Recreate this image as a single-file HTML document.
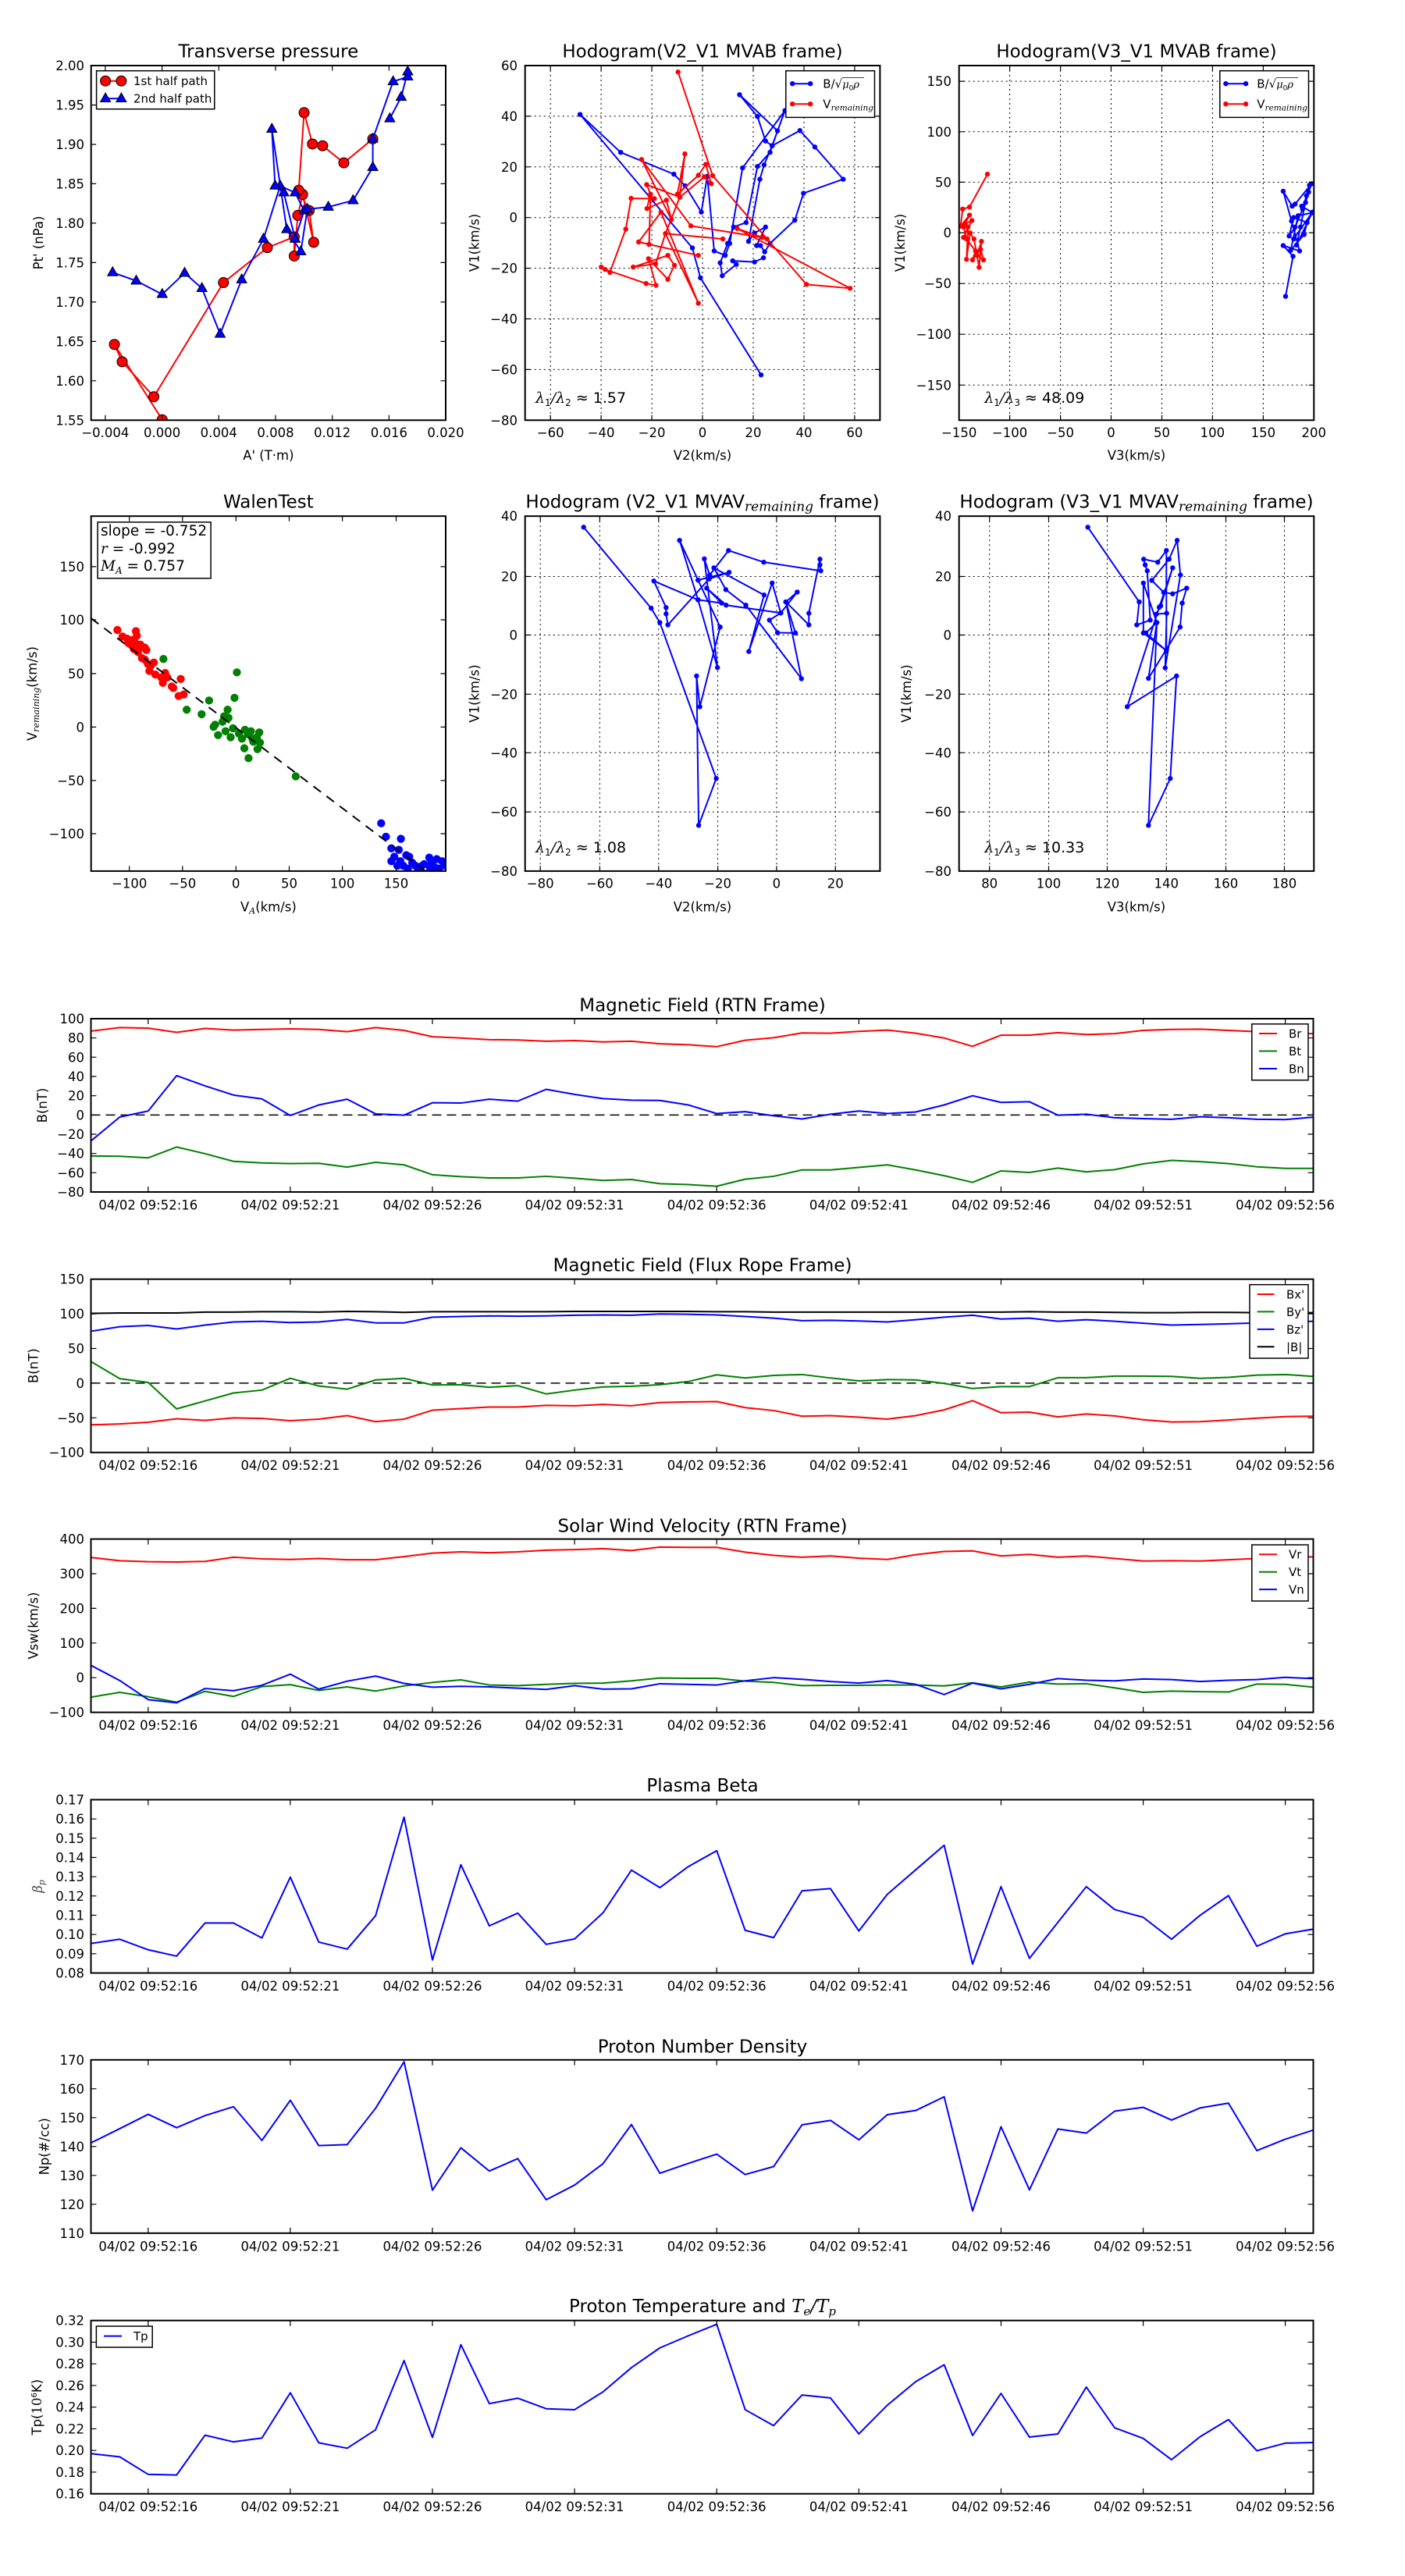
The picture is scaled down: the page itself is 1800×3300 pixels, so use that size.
<!DOCTYPE html>
<html><head><meta charset="utf-8"><style>
html,body{margin:0;padding:0;background:#fff}
svg{display:block}
text{font-family:"DejaVu Sans","Liberation Sans",sans-serif;fill:#000}
.t{font-size:23px;text-anchor:middle}
.kx{font-size:16.5px;text-anchor:middle}
.ky{font-size:16.5px;text-anchor:end}
.lg{font-size:15px}
.m{font-family:"DejaVu Serif","Liberation Serif",serif;font-style:italic}
.fr{fill:none;stroke:#000;stroke-width:2}
.tk{fill:none;stroke:#000;stroke-width:1.2}
.gd{fill:none;stroke:#000;stroke-width:1;stroke-dasharray:2,4}
.ts{fill:none;stroke-width:2;vector-effect:non-scaling-stroke;stroke-linejoin:round}
</style></head><body>
<svg width="1800" height="3300" xmlns="http://www.w3.org/2000/svg" xmlns:xlink="http://www.w3.org/1999/xlink">
<defs>
<clipPath id="c1"><rect x="116.7" y="84" width="454.3" height="454.3"/></clipPath>
<clipPath id="c2"><rect x="672.7" y="84" width="454.7" height="454.3"/></clipPath>
<clipPath id="c3"><rect x="1228.7" y="84" width="454.6" height="454.3"/></clipPath>
<clipPath id="c4"><rect x="116.7" y="661.2" width="454.3" height="454.7"/></clipPath>
<clipPath id="c5"><rect x="672.7" y="661.2" width="454.7" height="454.7"/></clipPath>
<clipPath id="c6"><rect x="1228.7" y="661.2" width="454.6" height="454.7"/></clipPath>
<clipPath id="t1"><rect x="116.5" y="1305" width="1566" height="222"/></clipPath>
<clipPath id="t2"><rect x="116.5" y="1638.7" width="1566" height="222"/></clipPath>
<clipPath id="t3"><rect x="116.5" y="1971.6" width="1566" height="222"/></clipPath>
<clipPath id="t4"><rect x="116.5" y="2305.5" width="1566" height="222"/></clipPath>
<clipPath id="t5"><rect x="116.5" y="2638.8" width="1566" height="222"/></clipPath>
<clipPath id="t6"><rect x="116.5" y="2972.7" width="1566" height="222"/></clipPath>
<marker id="mB" viewBox="-10 -10 20 20" markerWidth="20" markerHeight="20" markerUnits="userSpaceOnUse" overflow="visible"><circle r="8.4" fill="#0000ff"/></marker>
<marker id="mR" viewBox="-10 -10 20 20" markerWidth="20" markerHeight="20" markerUnits="userSpaceOnUse" overflow="visible"><circle r="8.4" fill="#ff0000"/></marker>
<marker id="wR" viewBox="-15 -15 30 30" markerWidth="30" markerHeight="30" markerUnits="userSpaceOnUse" overflow="visible"><circle r="13.5" fill="#ff0000"/></marker>
<marker id="wG" viewBox="-15 -15 30 30" markerWidth="30" markerHeight="30" markerUnits="userSpaceOnUse" overflow="visible"><circle r="13.5" fill="#008000"/></marker>
<marker id="wB" viewBox="-15 -15 30 30" markerWidth="30" markerHeight="30" markerUnits="userSpaceOnUse" overflow="visible"><circle r="13.5" fill="#0000ff"/></marker>
<marker id="pC" viewBox="-20 -20 40 40" markerWidth="40" markerHeight="40" markerUnits="userSpaceOnUse" overflow="visible"><circle r="17" fill="#ff0000" stroke="#000" stroke-width="2.6"/></marker>
<marker id="pT" viewBox="-20 -20 40 40" markerWidth="40" markerHeight="40" markerUnits="userSpaceOnUse" overflow="visible"><path d="M0,-19L-17,11L17,11Z" fill="#0000ff" stroke="#000" stroke-width="2.6"/></marker>
<path id="xtb" d="M189.8,0v-7M371.9,0v-7M554,0v-7M736.1,0v-7M918.2,0v-7M1100.3,0v-7M1282.5,0v-7M1464.6,0v-7M1646.6,0v-7"/>
<path id="xtt" d="M189.8,0v7M371.9,0v7M554,0v7M736.1,0v7M918.2,0v7M1100.3,0v7M1282.5,0v7M1464.6,0v7M1646.6,0v7"/>
</defs>
<rect x="0" y="0" width="1800" height="3300" fill="#fff"/>

<!-- ================= PLOT 1: Transverse pressure ================= -->
<g clip-path="url(#c1)"><g transform="scale(0.3827)">
<polyline fill="none" stroke="#ff0000" stroke-width="5.2" stroke-linejoin="round" marker-start="url(#pC)" marker-mid="url(#pC)" marker-end="url(#pC)" points="543,1405 383,1153 409,1211 515,1328 748,946 895,829 985,793 985,857 997,721 1013,651 1050,811 1035,705 1000,637 1018,377 1046,482 1080,488 1151,545 1248,465"/>
<polyline fill="none" stroke="#0000ff" stroke-width="5.2" stroke-linejoin="round" marker-start="url(#pT)" marker-mid="url(#pT)" marker-end="url(#pT)" points="377,912 456,940 543,985 618,914 676,965 737,1118 809,936 882,800 938,622 988,645 1018,705 988,800 950,645 921,622 910,432 960,768 1007,842 1029,700 1099,693 1182,671 1248,560 1248,465 1316,273 1365,257 1365,240 1343,325 1305,397"/>
</g></g>
<path class="tk" d="M134.9,538.3v-6.5M207.6,538.3v-6.5M280.3,538.3v-6.5M353,538.3v-6.5M425.7,538.3v-6.5M498.4,538.3v-6.5M134.9,84v6.5M207.6,84v6.5M280.3,84v6.5M353,84v6.5M425.7,84v6.5M498.4,84v6.5M116.7,134.5h6.5M116.7,185h6.5M116.7,235.4h6.5M116.7,285.9h6.5M116.7,336.4h6.5M116.7,386.9h6.5M116.7,437.4h6.5M116.7,487.8h6.5M571,134.5h-6.5M571,185h-6.5M571,235.4h-6.5M571,285.9h-6.5M571,336.4h-6.5M571,386.9h-6.5M571,437.4h-6.5M571,487.8h-6.5"/>
<rect class="fr" x="116.7" y="84" width="454.3" height="454.3"/>
<rect x="123.6" y="90.7" width="151.2" height="49" fill="#fff" stroke="#000" stroke-width="1.5"/>
<line x1="135.1" y1="103.7" x2="155.4" y2="103.7" stroke="#ff0000" stroke-width="2"/>
<circle cx="135.1" cy="103.7" r="6.5" fill="#ff0000" stroke="#000" stroke-width="1"/>
<circle cx="155.4" cy="103.7" r="6.5" fill="#ff0000" stroke="#000" stroke-width="1"/>
<text class="lg" x="171" y="109">1st half path</text>
<line x1="135.1" y1="126.3" x2="155.4" y2="126.3" stroke="#0000ff" stroke-width="2"/>
<path d="M135.1,119L128.6,130.5L141.6,130.5ZM155.4,119L148.9,130.5L161.9,130.5Z" fill="#0000ff" stroke="#000" stroke-width="1"/>
<text class="lg" x="171" y="131.6">2nd half path</text>
<text class="t" x="343.9" y="73.5">Transverse pressure</text>
<text class="kx" x="134.9" y="560">−0.004</text>
<text class="kx" x="207.6" y="560">0.000</text>
<text class="kx" x="280.3" y="560">0.004</text>
<text class="kx" x="353" y="560">0.008</text>
<text class="kx" x="425.7" y="560">0.012</text>
<text class="kx" x="498.4" y="560">0.016</text>
<text class="kx" x="571" y="560">0.020</text>
<text class="ky" x="108" y="90">2.00</text>
<text class="ky" x="108" y="140.5">1.95</text>
<text class="ky" x="108" y="191">1.90</text>
<text class="ky" x="108" y="241.4">1.85</text>
<text class="ky" x="108" y="291.9">1.80</text>
<text class="ky" x="108" y="342.4">1.75</text>
<text class="ky" x="108" y="392.9">1.70</text>
<text class="ky" x="108" y="443.4">1.65</text>
<text class="ky" x="108" y="493.8">1.60</text>
<text class="ky" x="108" y="544.3">1.55</text>
<text class="kx" x="343.9" y="589">A' (T·m)</text>
<text class="kx" transform="translate(55,311) rotate(-90)">Pt' (nPa)</text>

<!-- ================= PLOT 2: Hodogram V2_V1 MVAB ================= -->
<path class="gd" d="M705.2,84V538.3M770.1,84V538.3M835.1,84V538.3M900,84V538.3M965,84V538.3M1030,84V538.3M1094.9,84V538.3M672.7,148.9H1127.4M672.7,213.8H1127.4M672.7,278.7H1127.4M672.7,343.6H1127.4M672.7,408.5H1127.4M672.7,473.4H1127.4"/>
<g clip-path="url(#c2)"><g transform="translate(600,0) scale(0.3827)">
<polyline fill="none" stroke="#0000ff" stroke-width="5.2" stroke-linejoin="round" marker-start="url(#mB)" marker-mid="url(#mB)" marker-end="url(#mB)" points="980,1255 777,930 750,830 374,383 510,510 688,583 726,622 780,710 800,590 823,840 860,855 875,815 918,562 1060,370 1017,488 990,552 976,600 938,808 958,780 995,760 965,822 978,822 992,843 1010,815 1093,737 1122,647 1255,600 1160,492 1110,437 1017,488 995,472 968,390 908,317 1035,438 1010,510 968,557 930,745 888,760 868,815 843,880 850,923 897,885 885,873 958,877 988,863"/>
<polyline fill="none" stroke="#ff0000" stroke-width="5.2" stroke-linejoin="round" marker-start="url(#mR)" marker-mid="url(#mR)" marker-end="url(#mR)" points="702,241 818,588 1000,800 1132,952 1278,965 900,765 985,795 745,756 580,534 680,735 663,670 598,698 608,655 623,665 545,664 527,767 474,912 445,894 458,902 595,949 628,955 603,866 668,935 690,888 668,855 552,894 627,883 660,782 708,660 725,515 700,650 770,587 795,550 813,615 790,592 708,660 597,618 610,650 605,818 770,855 570,810 645,710 770,1015 660,782 852,800"/>
</g></g>
<path class="tk" d="M705.2,538.3v-6.5M770.1,538.3v-6.5M835.1,538.3v-6.5M900,538.3v-6.5M965,538.3v-6.5M1030,538.3v-6.5M1094.9,538.3v-6.5M705.2,84v6.5M770.1,84v6.5M835.1,84v6.5M900,84v6.5M965,84v6.5M1030,84v6.5M1094.9,84v6.5M672.7,148.9h6.5M672.7,213.8h6.5M672.7,278.7h6.5M672.7,343.6h6.5M672.7,408.5h6.5M672.7,473.4h6.5M1127.4,148.9h-6.5M1127.4,213.8h-6.5M1127.4,278.7h-6.5M1127.4,343.6h-6.5M1127.4,408.5h-6.5M1127.4,473.4h-6.5"/>
<rect class="fr" x="672.7" y="84" width="454.7" height="454.3"/>
<rect x="1006.8" y="90.7" width="113.7" height="59.7" fill="#fff" stroke="#000" stroke-width="1.5"/>
<line x1="1015.2" y1="107.2" x2="1038.2" y2="107.2" stroke="#0000ff" stroke-width="2"/>
<circle cx="1015.2" cy="107.2" r="3.2" fill="#0000ff"/><circle cx="1038.2" cy="107.2" r="3.2" fill="#0000ff"/>
<text class="lg" x="1054.3" y="112.5">B/√<tspan class="m" font-size="13">μ</tspan><tspan font-size="9" dy="3">0</tspan><tspan class="m" font-size="13" dy="-3">ρ</tspan></text>
<line x1="1079" y1="99.5" x2="1107" y2="99.5" stroke="#000" stroke-width="0.8"/>
<line x1="1015.2" y1="133.2" x2="1038.2" y2="133.2" stroke="#ff0000" stroke-width="2"/>
<circle cx="1015.2" cy="133.2" r="3.2" fill="#ff0000"/><circle cx="1038.2" cy="133.2" r="3.2" fill="#ff0000"/>
<text class="lg" x="1054.3" y="138.5">V<tspan class="m" font-size="10.5" dy="3">remaining</tspan></text>
<text x="686" y="516" font-size="19"><tspan class="m">λ</tspan><tspan font-size="12" dy="4">1</tspan><tspan class="m" dy="-4">/λ</tspan><tspan font-size="12" dy="4">2</tspan><tspan dy="-4"> ≈ 1.57</tspan></text>
<text class="t" x="900" y="73.5">Hodogram(V2_V1 MVAB frame)</text>
<text class="kx" x="705.2" y="560">−60</text>
<text class="kx" x="770.1" y="560">−40</text>
<text class="kx" x="835.1" y="560">−20</text>
<text class="kx" x="900" y="560">0</text>
<text class="kx" x="965" y="560">20</text>
<text class="kx" x="1030" y="560">40</text>
<text class="kx" x="1094.9" y="560">60</text>
<text class="ky" x="663" y="90">60</text>
<text class="ky" x="663" y="154.9">40</text>
<text class="ky" x="663" y="219.8">20</text>
<text class="ky" x="663" y="284.7">0</text>
<text class="ky" x="663" y="349.6">−20</text>
<text class="ky" x="663" y="414.5">−40</text>
<text class="ky" x="663" y="479.4">−60</text>
<text class="ky" x="663" y="544.3">−80</text>
<text class="kx" x="900" y="589">V2(km/s)</text>
<text class="kx" transform="translate(613.5,311) rotate(-90)">V1(km/s)</text>

<!-- ================= PLOT 3: Hodogram V3_V1 MVAB ================= -->
<path class="gd" d="M1293.6,84V538.3M1358.6,84V538.3M1423.5,84V538.3M1488.5,84V538.3M1553.4,84V538.3M1618.4,84V538.3M1228.7,104.1H1683.3M1228.7,168.8H1683.3M1228.7,233.4H1683.3M1228.7,298.1H1683.3M1228.7,363.2H1683.3M1228.7,428.2H1683.3M1228.7,493.3H1683.3"/>
<g clip-path="url(#c3)"><g transform="translate(1200,0) scale(0.3827)">
<polyline fill="none" stroke="#0000ff" stroke-width="5.2" stroke-linejoin="round" marker-start="url(#mB)" marker-mid="url(#mB)" marker-end="url(#mB)" points="1168,992 1193,858 1160,822 1215,840 1188,740 1160,640 1190,690 1200,683 1255,615 1245,643 1235,678 1222,690 1258,712 1210,722 1185,838 1230,785 1240,745 1195,728 1180,790 1200,760 1225,700 1248,620 1238,655 1218,760 1205,820 1258,710 1195,800"/>
<polyline fill="none" stroke="#ff0000" stroke-width="5.2" stroke-linejoin="round" marker-start="url(#mR)" marker-mid="url(#mR)" marker-end="url(#mR)" points="170,583 110,693 87,700 80,757 110,720 95,750 118,738 90,795 105,760 100,868 112,780 125,800 142,895 150,808 135,855 157,870 147,835 120,870 130,840 100,800 90,760"/>
</g></g>
<path class="tk" d="M1293.6,538.3v-6.5M1358.6,538.3v-6.5M1423.5,538.3v-6.5M1488.5,538.3v-6.5M1553.4,538.3v-6.5M1618.4,538.3v-6.5M1293.6,84v6.5M1358.6,84v6.5M1423.5,84v6.5M1488.5,84v6.5M1553.4,84v6.5M1618.4,84v6.5M1228.7,104.1h6.5M1228.7,168.8h6.5M1228.7,233.4h6.5M1228.7,298.1h6.5M1228.7,363.2h6.5M1228.7,428.2h6.5M1228.7,493.3h6.5M1683.3,104.1h-6.5M1683.3,168.8h-6.5M1683.3,233.4h-6.5M1683.3,298.1h-6.5M1683.3,363.2h-6.5M1683.3,428.2h-6.5M1683.3,493.3h-6.5"/>
<rect class="fr" x="1228.7" y="84" width="454.6" height="454.3"/>
<rect x="1562.8" y="90.7" width="113.7" height="59.7" fill="#fff" stroke="#000" stroke-width="1.5"/>
<line x1="1570.4" y1="107.2" x2="1596.1" y2="107.2" stroke="#0000ff" stroke-width="2"/>
<circle cx="1570.4" cy="107.2" r="3.2" fill="#0000ff"/><circle cx="1596.1" cy="107.2" r="3.2" fill="#0000ff"/>
<text class="lg" x="1610.3" y="112.5">B/√<tspan class="m" font-size="13">μ</tspan><tspan font-size="9" dy="3">0</tspan><tspan class="m" font-size="13" dy="-3">ρ</tspan></text>
<line x1="1635" y1="99.5" x2="1663" y2="99.5" stroke="#000" stroke-width="0.8"/>
<line x1="1570.4" y1="133.2" x2="1596.1" y2="133.2" stroke="#ff0000" stroke-width="2"/>
<circle cx="1570.4" cy="133.2" r="3.2" fill="#ff0000"/><circle cx="1596.1" cy="133.2" r="3.2" fill="#ff0000"/>
<text class="lg" x="1610.3" y="138.5">V<tspan class="m" font-size="10.5" dy="3">remaining</tspan></text>
<text x="1261.2" y="516" font-size="19"><tspan class="m">λ</tspan><tspan font-size="12" dy="4">1</tspan><tspan class="m" dy="-4">/λ</tspan><tspan font-size="12" dy="4">3</tspan><tspan dy="-4"> ≈ 48.09</tspan></text>
<text class="t" x="1456" y="73.5">Hodogram(V3_V1 MVAB frame)</text>
<text class="kx" x="1228.7" y="560">−150</text>
<text class="kx" x="1293.6" y="560">−100</text>
<text class="kx" x="1358.6" y="560">−50</text>
<text class="kx" x="1423.5" y="560">0</text>
<text class="kx" x="1488.5" y="560">50</text>
<text class="kx" x="1553.4" y="560">100</text>
<text class="kx" x="1618.4" y="560">150</text>
<text class="kx" x="1683.3" y="560">200</text>
<text class="ky" x="1219" y="110.1">150</text>
<text class="ky" x="1219" y="174.8">100</text>
<text class="ky" x="1219" y="239.4">50</text>
<text class="ky" x="1219" y="304.1">0</text>
<text class="ky" x="1219" y="369.2">−50</text>
<text class="ky" x="1219" y="434.2">−100</text>
<text class="ky" x="1219" y="499.3">−150</text>
<text class="kx" x="1456" y="589">V3(km/s)</text>
<text class="kx" transform="translate(1159,311) rotate(-90)">V1(km/s)</text>

<!-- ================= PLOT 4: WalenTest ================= -->
<g clip-path="url(#c4)"><g transform="translate(0,600) scale(0.3827)">
<polyline fill="none" stroke="none" marker-start="url(#wR)" marker-mid="url(#wR)" marker-end="url(#wR)" points="393,541 410,563 425,570 440,575 455,545 458,560 448,605 462,615 470,590 475,635 485,600 490,608 495,655 500,678 515,650 520,690 545,718 553,685 560,700 575,730 580,735 598,762 605,705 615,757 450,580 470,600 505,660 540,700 438,590 485,640 430,585 460,590"/>
<polyline fill="none" stroke="none" marker-start="url(#wG)" marker-mid="url(#wG)" marker-end="url(#wG)" points="547,638 793,683 700,777 625,808 675,823 785,768 762,808 750,830 765,835 745,848 720,858 715,865 730,893 772,900 755,880 780,870 800,888 820,875 830,890 840,880 868,884 860,900 870,918 818,937 862,940 848,915 832,970 990,1031 810,905 845,905"/>
<polyline fill="none" stroke="none" marker-start="url(#wB)" marker-mid="url(#wB)" marker-end="url(#wB)" points="1276,1188 1292,1233 1342,1240 1310,1272 1335,1277 1320,1300 1310,1315 1340,1315 1360,1295 1370,1300 1380,1320 1390,1330 1350,1330 1365,1340 1400,1340 1420,1325 1437,1303 1445,1320 1462,1308 1480,1315 1470,1340 1440,1340 1490,1330 1330,1330 1410,1332 1455,1335"/>
</g>
<line x1="116.7" y1="792.1" x2="545.3" y2="1115.9" stroke="#000" stroke-width="2" stroke-dasharray="12,9"/>
</g>
<path class="tk" d="M165.7,1115.9v-6.5M233.8,1115.9v-6.5M302.3,1115.9v-6.5M370.5,1115.9v-6.5M438.6,1115.9v-6.5M507.5,1115.9v-6.5M165.7,661.2v6.5M233.8,661.2v6.5M302.3,661.2v6.5M370.5,661.2v6.5M438.6,661.2v6.5M507.5,661.2v6.5M116.7,725.9h6.5M116.7,794h6.5M116.7,862.9h6.5M116.7,931.4h6.5M116.7,999.9h6.5M116.7,1068h6.5M571,725.9h-6.5M571,794h-6.5M571,862.9h-6.5M571,931.4h-6.5M571,999.9h-6.5M571,1068h-6.5"/>
<rect class="fr" x="116.7" y="661.2" width="454.3" height="454.7"/>
<rect x="125.1" y="668.9" width="145" height="72" fill="#fff" stroke="#000" stroke-width="1.5"/>
<text x="129" y="686.1" font-size="18.5">slope = -0.752</text>
<text x="129" y="709.1" font-size="18.5"><tspan class="m">r</tspan> = -0.992</text>
<text x="129" y="730.9" font-size="18.5"><tspan class="m">M</tspan><tspan class="m" font-size="12" dy="4">A</tspan><tspan dy="-4"> = 0.757</tspan></text>
<text class="t" x="343.9" y="650.5">WalenTest</text>
<text class="kx" x="165.7" y="1137.7">−100</text>
<text class="kx" x="233.8" y="1137.7">−50</text>
<text class="kx" x="302.3" y="1137.7">0</text>
<text class="kx" x="370.5" y="1137.7">50</text>
<text class="kx" x="438.6" y="1137.7">100</text>
<text class="kx" x="507.5" y="1137.7">150</text>
<text class="ky" x="108" y="731.9">150</text>
<text class="ky" x="108" y="800">100</text>
<text class="ky" x="108" y="868.9">50</text>
<text class="ky" x="108" y="937.4">0</text>
<text class="ky" x="108" y="1005.9">−50</text>
<text class="ky" x="108" y="1074">−100</text>
<text class="kx" x="343.9" y="1167.5">V<tspan class="m" font-size="11" dy="3">A</tspan><tspan dy="-3">(km/s)</tspan></text>
<text class="kx" transform="translate(47,888.5) rotate(-90)">V<tspan class="m" font-size="11" dy="3">remaining</tspan><tspan dy="-3">(km/s)</tspan></text>

<!-- ================= PLOT 5: Hodogram V2_V1 MVAV ================= -->
<path class="gd" d="M692.2,661.2V1115.9M768.4,661.2V1115.9M843.8,661.2V1115.9M919.6,661.2V1115.9M994.9,661.2V1115.9M1070.3,661.2V1115.9M672.7,738.5H1127.4M672.7,813.5H1127.4M672.7,889.3H1127.4M672.7,964.3H1127.4M672.7,1040.1H1127.4"/>
<g clip-path="url(#c5)"><g transform="translate(600,600) scale(0.3827)">
<polyline fill="none" stroke="#0000ff" stroke-width="5.2" stroke-linejoin="round" marker-start="url(#mB)" marker-mid="url(#mB)" marker-end="url(#mB)" points="386,197 612,468 641,516 830,1038 771,1195 764,695 775,798 843,531 769,374 707,241 769,440 834,667 790,303 808,357 871,275 989,314 1180,343 1177,323 1177,304 1140,485 1140,524 1063,447 1101,414 1046,484 1008,508 1035,550 1095,551 1063,447 1115,704 929,458 862,406 822,333 990,424 939,613 1017,384 1046,484 863,458 798,401 848,451 769,440 621,377 662,466 662,487 668,524 806,370 873,348 769,374"/>
</g></g>
<path class="tk" d="M692.2,1115.9v-6.5M768.4,1115.9v-6.5M843.8,1115.9v-6.5M919.6,1115.9v-6.5M994.9,1115.9v-6.5M1070.3,1115.9v-6.5M692.2,661.2v6.5M768.4,661.2v6.5M843.8,661.2v6.5M919.6,661.2v6.5M994.9,661.2v6.5M1070.3,661.2v6.5M672.7,738.5h6.5M672.7,813.5h6.5M672.7,889.3h6.5M672.7,964.3h6.5M672.7,1040.1h6.5M1127.4,738.5h-6.5M1127.4,813.5h-6.5M1127.4,889.3h-6.5M1127.4,964.3h-6.5M1127.4,1040.1h-6.5"/>
<rect class="fr" x="672.7" y="661.2" width="454.7" height="454.7"/>
<text x="686" y="1091.8" font-size="19"><tspan class="m">λ</tspan><tspan font-size="12" dy="4">1</tspan><tspan class="m" dy="-4">/λ</tspan><tspan font-size="12" dy="4">2</tspan><tspan dy="-4"> ≈ 1.08</tspan></text>
<text class="t" x="900" y="650.5">Hodogram (V2_V1 MVAV<tspan class="m" font-size="17" dy="4">remaining</tspan><tspan dy="-4"> frame)</tspan></text>
<text class="kx" x="692.2" y="1137.7">−80</text>
<text class="kx" x="768.4" y="1137.7">−60</text>
<text class="kx" x="843.8" y="1137.7">−40</text>
<text class="kx" x="919.6" y="1137.7">−20</text>
<text class="kx" x="994.9" y="1137.7">0</text>
<text class="kx" x="1070.3" y="1137.7">20</text>
<text class="ky" x="663" y="667.2">40</text>
<text class="ky" x="663" y="744.5">20</text>
<text class="ky" x="663" y="819.5">0</text>
<text class="ky" x="663" y="895.3">−20</text>
<text class="ky" x="663" y="970.3">−40</text>
<text class="ky" x="663" y="1046.1">−60</text>
<text class="ky" x="663" y="1121.9">−80</text>
<text class="kx" x="900" y="1167.5">V2(km/s)</text>
<text class="kx" transform="translate(613.5,888.5) rotate(-90)">V1(km/s)</text>

<!-- ================= PLOT 6: Hodogram V3_V1 MVAV ================= -->
<path class="gd" d="M1267.7,661.2V1115.9M1343.5,661.2V1115.9M1418.5,661.2V1115.9M1494.3,661.2V1115.9M1570.5,661.2V1115.9M1645.5,661.2V1115.9M1228.7,738.5H1683.3M1228.7,813.5H1683.3M1228.7,889.3H1683.3M1228.7,964.3H1683.3M1228.7,1040.1H1683.3"/>
<g clip-path="url(#c6)"><g transform="translate(1200,600) scale(0.3827)">
<polyline fill="none" stroke="#0000ff" stroke-width="5.2" stroke-linejoin="round" marker-start="url(#mB)" marker-mid="url(#mB)" marker-end="url(#mB)" points="506,197 678,447 670,524 715,508 705,343 698,323 693,304 740,314 769,275 769,610 692,551 692,384 737,516 709,703 815,531 822,451 837,401 790,420 760,415 720,375 778,304 805,241 816,357 765,668 770,485 735,488 750,460 790,333 745,465 638,798 803,695 782,1038 709,1195 737,516 700,551 769,610"/>
</g></g>
<path class="tk" d="M1267.7,1115.9v-6.5M1343.5,1115.9v-6.5M1418.5,1115.9v-6.5M1494.3,1115.9v-6.5M1570.5,1115.9v-6.5M1645.5,1115.9v-6.5M1267.7,661.2v6.5M1343.5,661.2v6.5M1418.5,661.2v6.5M1494.3,661.2v6.5M1570.5,661.2v6.5M1645.5,661.2v6.5M1228.7,738.5h6.5M1228.7,813.5h6.5M1228.7,889.3h6.5M1228.7,964.3h6.5M1228.7,1040.1h6.5M1683.3,738.5h-6.5M1683.3,813.5h-6.5M1683.3,889.3h-6.5M1683.3,964.3h-6.5M1683.3,1040.1h-6.5"/>
<rect class="fr" x="1228.7" y="661.2" width="454.6" height="454.7"/>
<text x="1261.2" y="1091.8" font-size="19"><tspan class="m">λ</tspan><tspan font-size="12" dy="4">1</tspan><tspan class="m" dy="-4">/λ</tspan><tspan font-size="12" dy="4">3</tspan><tspan dy="-4"> ≈ 10.33</tspan></text>
<text class="t" x="1456" y="650.5">Hodogram (V3_V1 MVAV<tspan class="m" font-size="17" dy="4">remaining</tspan><tspan dy="-4"> frame)</tspan></text>
<text class="kx" x="1267.7" y="1137.7">80</text>
<text class="kx" x="1343.5" y="1137.7">100</text>
<text class="kx" x="1418.5" y="1137.7">120</text>
<text class="kx" x="1494.3" y="1137.7">140</text>
<text class="kx" x="1570.5" y="1137.7">160</text>
<text class="kx" x="1645.5" y="1137.7">180</text>
<text class="ky" x="1219" y="667.2">40</text>
<text class="ky" x="1219" y="744.5">20</text>
<text class="ky" x="1219" y="819.5">0</text>
<text class="ky" x="1219" y="895.3">−20</text>
<text class="ky" x="1219" y="970.3">−40</text>
<text class="ky" x="1219" y="1046.1">−60</text>
<text class="ky" x="1219" y="1121.9">−80</text>
<text class="kx" x="1456" y="1167.5">V3(km/s)</text>
<text class="kx" transform="translate(1167,888.5) rotate(-90)">V1(km/s)</text>

<!-- ================= TS1: Magnetic Field (RTN) ================= -->
<line x1="116.5" y1="1428.33" x2="1682.5" y2="1428.33" stroke="#000" stroke-width="1.5" stroke-dasharray="12,7"/>
<g clip-path="url(#t1)"><g transform="translate(117,1260) scale(36.42,0.408163)">
<polyline class="ts" stroke="#ff0000" points="0,149 1,138 2,140 3,153 4,141 5,146 6,144 7,142 8,144 9,151 10,138 11,147 12,167 13,171 14,176 15,177 16,181 17,179 18,183 19,181 20,189 21,192 22,198 23,178 24,170 25,155 26,156 27,150 28,146 29,156 30,171 31,197 32,162 33,162 34,154 35,160 36,157 37,147 38,144 39,143 40,147 41,151 42,157 43,157"/>
<polyline class="ts" stroke="#008000" points="0,541 1,542 2,547 3,513 4,534 5,558 6,563 7,565 8,564 9,576 10,561 11,569 12,600 13,606 14,610 15,610 16,605 17,611 18,618 19,615 20,628 21,631 22,636 23,614 24,605 25,585 26,585 27,577 28,569 29,585 30,603 31,624 32,588 33,593 34,579 35,591 36,584 37,566 38,555 39,559 40,565 41,575 42,580 43,580"/>
<polyline class="ts" stroke="#0000ff" points="0,493 1,419 2,400 3,289 4,321 5,350 6,362 7,414 8,381 9,363 10,409 11,413 12,374 13,375 14,363 15,369 16,332 17,348 18,361 19,366 20,367 21,381 22,408 23,402 24,415 25,425 26,410 27,400 28,408 29,403 30,381 31,352 32,373 33,371 34,413 35,410 36,421 37,424 38,426 39,418 40,421 41,426 42,427 43,419"/>
</g></g>
<g class="tk"><use xlink:href="#xtb" href="#xtb" y="1527"/><use xlink:href="#xtt" href="#xtt" y="1305"/></g>
<path class="tk" d="M116.5,1329.67h7M116.5,1354.33h7M116.5,1379h7M116.5,1403.67h7M116.5,1428.33h7M116.5,1453h7M116.5,1477.67h7M116.5,1502.33h7M1682.5,1329.67h-7M1682.5,1354.33h-7M1682.5,1379h-7M1682.5,1403.67h-7M1682.5,1428.33h-7M1682.5,1453h-7M1682.5,1477.67h-7M1682.5,1502.33h-7"/>
<rect class="fr" x="116.5" y="1305" width="1566" height="222"/>
<rect x="1603.8" y="1311.8" width="72.2" height="71.9" fill="#fff" stroke="#000" stroke-width="1.5"/>
<line x1="1613" y1="1324" x2="1636" y2="1324" stroke="#ff0000" stroke-width="2"/>
<line x1="1613" y1="1346.5" x2="1636" y2="1346.5" stroke="#008000" stroke-width="2"/>
<line x1="1613" y1="1369" x2="1636" y2="1369" stroke="#0000ff" stroke-width="2"/>
<text class="lg" x="1651" y="1329.5">Br</text>
<text class="lg" x="1651" y="1352">Bt</text>
<text class="lg" x="1651" y="1374.5">Bn</text>
<text class="t" x="900" y="1295.5">Magnetic Field (RTN Frame)</text>
<text class="ky" x="108" y="1311">100</text>
<text class="ky" x="108" y="1335.67">80</text>
<text class="ky" x="108" y="1360.33">60</text>
<text class="ky" x="108" y="1385">40</text>
<text class="ky" x="108" y="1409.67">20</text>
<text class="ky" x="108" y="1434.33">0</text>
<text class="ky" x="108" y="1459">−20</text>
<text class="ky" x="108" y="1483.67">−40</text>
<text class="ky" x="108" y="1508.33">−60</text>
<text class="ky" x="108" y="1533">−80</text>
<text class="kx" x="189.8" y="1549.5">04/02 09:52:16</text>
<text class="kx" x="371.9" y="1549.5">04/02 09:52:21</text>
<text class="kx" x="554" y="1549.5">04/02 09:52:26</text>
<text class="kx" x="736.1" y="1549.5">04/02 09:52:31</text>
<text class="kx" x="918.2" y="1549.5">04/02 09:52:36</text>
<text class="kx" x="1100.3" y="1549.5">04/02 09:52:41</text>
<text class="kx" x="1282.5" y="1549.5">04/02 09:52:46</text>
<text class="kx" x="1464.6" y="1549.5">04/02 09:52:51</text>
<text class="kx" x="1646.6" y="1549.5">04/02 09:52:56</text>
<text class="kx" transform="translate(60,1416) rotate(-90)">B(nT)</text>

<!-- ================= TS2: Magnetic Field (Flux Rope) ================= -->
<line x1="116.5" y1="1771.9" x2="1682.5" y2="1771.9" stroke="#000" stroke-width="1.5" stroke-dasharray="12,7"/>
<g clip-path="url(#t2)"><g transform="translate(117,1260) scale(36.42,0.408163)">
<polyline class="ts" stroke="#ff0000" points="0,1385 1,1382 2,1377 3,1366 4,1371 5,1363 6,1365 7,1372 8,1367 9,1356 10,1375 11,1367 12,1339 13,1334 14,1329 15,1329 16,1324 17,1325 18,1321 19,1325 20,1315 21,1313 22,1312 23,1331 24,1340 25,1358 26,1356 27,1361 28,1367 29,1356 30,1338 31,1309 32,1347 33,1345 34,1360 35,1351 36,1357 37,1369 38,1376 39,1375 40,1370 41,1364 42,1359 43,1358"/>
<polyline class="ts" stroke="#008000" points="0,1187 1,1240 2,1252 3,1335 4,1310 5,1285 6,1276 7,1239 8,1263 9,1273 10,1244 11,1239 12,1260 13,1259 14,1267 15,1262 16,1288 17,1276 18,1266 19,1264 20,1259 21,1249 22,1228 23,1238 24,1230 25,1227 26,1238 27,1247 28,1243 29,1244 30,1255 31,1271 32,1265 33,1265 34,1237 35,1237 36,1232 37,1232 38,1233 39,1239 40,1236 41,1229 42,1227 43,1233"/>
<polyline class="ts" stroke="#0000ff" points="0,1091 1,1077 2,1073 3,1084 4,1072 5,1062 6,1060 7,1064 8,1062 9,1054 10,1065 11,1065 12,1047 13,1045 14,1043 15,1044 16,1043 17,1041 18,1040 19,1041 20,1037 21,1038 22,1040 23,1045 24,1050 25,1058 26,1057 27,1059 28,1062 29,1055 30,1047 31,1041 32,1053 33,1050 34,1060 35,1055 36,1060 37,1066 38,1072 39,1070 40,1068 41,1065 42,1062 43,1060"/>
<polyline class="ts" stroke="#000000" points="0,1035 1,1034 2,1034 3,1034 4,1031 5,1031 6,1030 7,1030 8,1031 9,1029 10,1030 11,1032 12,1030 13,1030 14,1030 15,1030 16,1030 17,1029 18,1029 19,1029 20,1029 21,1029 22,1030 23,1030 24,1031 25,1031 26,1031 27,1031 28,1031 29,1031 30,1031 31,1031 32,1031 33,1030 34,1031 35,1031 36,1032 37,1033 38,1033 39,1032 40,1032 41,1033 42,1033 43,1033"/>
</g></g>
<g class="tk"><use xlink:href="#xtb" href="#xtb" y="1860.7"/><use xlink:href="#xtt" href="#xtt" y="1638.7"/></g>
<path class="tk" d="M116.5,1683.1h7M116.5,1727.5h7M116.5,1771.9h7M116.5,1816.3h7M1682.5,1683.1h-7M1682.5,1727.5h-7M1682.5,1771.9h-7M1682.5,1816.3h-7"/>
<rect class="fr" x="116.5" y="1638.7" width="1566" height="222"/>
<rect x="1601" y="1645.7" width="75" height="94.3" fill="#fff" stroke="#000" stroke-width="1.5"/>
<line x1="1610.7" y1="1658" x2="1632.5" y2="1658" stroke="#ff0000" stroke-width="2"/>
<line x1="1610.7" y1="1680.4" x2="1632.5" y2="1680.4" stroke="#008000" stroke-width="2"/>
<line x1="1610.7" y1="1702.9" x2="1632.5" y2="1702.9" stroke="#0000ff" stroke-width="2"/>
<line x1="1610.7" y1="1725.3" x2="1632.5" y2="1725.3" stroke="#000000" stroke-width="2"/>
<text class="lg" x="1648" y="1663.5">Bx'</text>
<text class="lg" x="1648" y="1685.9">By'</text>
<text class="lg" x="1648" y="1708.4">Bz'</text>
<text class="lg" x="1648" y="1730.8">|B|</text>
<text class="t" x="900" y="1628.5">Magnetic Field (Flux Rope Frame)</text>
<text class="ky" x="108" y="1644.7">150</text>
<text class="ky" x="108" y="1689.1">100</text>
<text class="ky" x="108" y="1733.5">50</text>
<text class="ky" x="108" y="1777.9">0</text>
<text class="ky" x="108" y="1822.3">−50</text>
<text class="ky" x="108" y="1866.7">−100</text>
<text class="kx" x="189.8" y="1883.2">04/02 09:52:16</text>
<text class="kx" x="371.9" y="1883.2">04/02 09:52:21</text>
<text class="kx" x="554" y="1883.2">04/02 09:52:26</text>
<text class="kx" x="736.1" y="1883.2">04/02 09:52:31</text>
<text class="kx" x="918.2" y="1883.2">04/02 09:52:36</text>
<text class="kx" x="1100.3" y="1883.2">04/02 09:52:41</text>
<text class="kx" x="1282.5" y="1883.2">04/02 09:52:46</text>
<text class="kx" x="1464.6" y="1883.2">04/02 09:52:51</text>
<text class="kx" x="1646.6" y="1883.2">04/02 09:52:56</text>
<text class="kx" transform="translate(48.5,1749.7) rotate(-90)">B(nT)</text>

<!-- ================= TS3: Solar Wind Velocity ================= -->
<g clip-path="url(#t3)"><g transform="translate(117,1930) scale(36.42,0.408163)">
<polyline class="ts" stroke="#ff0000" points="0,160 1,170 2,173 3,174 4,172 5,159 6,164 7,166 8,163 9,167 10,167 11,157 12,146 13,142 14,145 15,142 16,137 17,135 18,132 19,138 20,127 21,128 22,128 23,143 24,153 25,159 26,155 27,162 28,166 29,151 30,141 31,139 32,155 33,150 34,159 35,155 36,163 37,171 38,170 39,171 40,167 41,163 42,157 43,158"/>
<polyline class="ts" stroke="#008000" points="0,598 1,583 2,597 3,614 4,580 5,596 6,565 7,559 8,577 9,566 10,579 11,563 12,552 13,544 14,560 15,562 16,558 17,555 18,554 19,547 20,538 21,539 22,539 23,548 24,552 25,562 26,561 27,561 28,560 29,560 30,563 31,553 32,566 33,551 34,557 35,556 36,569 37,583 38,579 39,581 40,582 41,557 42,558 43,567"/>
<polyline class="ts" stroke="#0000ff" points="0,499 1,546 2,606 3,616 4,571 5,578 6,561 7,526 8,573 9,548 10,532 11,555 12,567 13,564 14,566 15,570 16,574 17,562 18,573 19,572 20,556 21,558 22,560 23,547 24,537 25,542 26,549 27,554 28,546 29,558 30,590 31,554 32,572 33,558 34,540 35,545 36,547 37,541 38,543 39,549 40,545 41,543 42,536 43,540"/>
</g></g>
<g class="tk"><use xlink:href="#xtb" href="#xtb" y="2193.6"/><use xlink:href="#xtt" href="#xtt" y="1971.6"/></g>
<path class="tk" d="M116.5,2016h7M116.5,2060.4h7M116.5,2104.8h7M116.5,2149.2h7M1682.5,2016h-7M1682.5,2060.4h-7M1682.5,2104.8h-7M1682.5,2149.2h-7"/>
<rect class="fr" x="116.5" y="1971.6" width="1566" height="222"/>
<rect x="1603.8" y="1979" width="72.2" height="72" fill="#fff" stroke="#000" stroke-width="1.5"/>
<line x1="1613" y1="1991.2" x2="1636" y2="1991.2" stroke="#ff0000" stroke-width="2"/>
<line x1="1613" y1="2013.7" x2="1636" y2="2013.7" stroke="#008000" stroke-width="2"/>
<line x1="1613" y1="2036.1" x2="1636" y2="2036.1" stroke="#0000ff" stroke-width="2"/>
<text class="lg" x="1651" y="1996.7">Vr</text>
<text class="lg" x="1651" y="2019.2">Vt</text>
<text class="lg" x="1651" y="2041.6">Vn</text>
<text class="t" x="900" y="1962.5">Solar Wind Velocity (RTN Frame)</text>
<text class="ky" x="108" y="1977.6">400</text>
<text class="ky" x="108" y="2022">300</text>
<text class="ky" x="108" y="2066.4">200</text>
<text class="ky" x="108" y="2110.8">100</text>
<text class="ky" x="108" y="2155.2">0</text>
<text class="ky" x="108" y="2199.6">−100</text>
<text class="kx" x="189.8" y="2216.1">04/02 09:52:16</text>
<text class="kx" x="371.9" y="2216.1">04/02 09:52:21</text>
<text class="kx" x="554" y="2216.1">04/02 09:52:26</text>
<text class="kx" x="736.1" y="2216.1">04/02 09:52:31</text>
<text class="kx" x="918.2" y="2216.1">04/02 09:52:36</text>
<text class="kx" x="1100.3" y="2216.1">04/02 09:52:41</text>
<text class="kx" x="1282.5" y="2216.1">04/02 09:52:46</text>
<text class="kx" x="1464.6" y="2216.1">04/02 09:52:51</text>
<text class="kx" x="1646.6" y="2216.1">04/02 09:52:56</text>
<text class="kx" transform="translate(48.5,2082.6) rotate(-90)">Vsw(km/s)</text>

<!-- ================= TS4: Plasma Beta ================= -->
<g clip-path="url(#t4)"><g transform="translate(117,1930) scale(36.42,0.408163)">
<polyline class="ts" stroke="#0000ff" points="0,1371 1,1358 2,1391 3,1411 4,1307 5,1307 6,1354 7,1163 8,1367 9,1389 10,1284 11,975 12,1423 13,1124 14,1316 15,1276 16,1374 17,1357 18,1275 19,1141 20,1196 21,1130 22,1080 23,1330 24,1353 25,1206 26,1199 27,1332 28,1217 29,1140 30,1063 31,1436 32,1193 33,1418 34,1305 35,1193 36,1265 37,1289 38,1358 39,1283 40,1221 41,1380 42,1341 43,1326"/>
</g></g>
<g class="tk"><use xlink:href="#xtb" href="#xtb" y="2527.5"/><use xlink:href="#xtt" href="#xtt" y="2305.5"/></g>
<path class="tk" d="M116.5,2330.17h7M116.5,2354.83h7M116.5,2379.5h7M116.5,2404.17h7M116.5,2428.83h7M116.5,2453.5h7M116.5,2478.17h7M116.5,2502.83h7M1682.5,2330.17h-7M1682.5,2354.83h-7M1682.5,2379.5h-7M1682.5,2404.17h-7M1682.5,2428.83h-7M1682.5,2453.5h-7M1682.5,2478.17h-7M1682.5,2502.83h-7"/>
<rect class="fr" x="116.5" y="2305.5" width="1566" height="222"/>
<text class="t" x="900" y="2295">Plasma Beta</text>
<text class="ky" x="108" y="2311.5">0.17</text>
<text class="ky" x="108" y="2336.17">0.16</text>
<text class="ky" x="108" y="2360.83">0.15</text>
<text class="ky" x="108" y="2385.5">0.14</text>
<text class="ky" x="108" y="2410.17">0.13</text>
<text class="ky" x="108" y="2434.83">0.12</text>
<text class="ky" x="108" y="2459.5">0.11</text>
<text class="ky" x="108" y="2484.17">0.10</text>
<text class="ky" x="108" y="2508.83">0.09</text>
<text class="ky" x="108" y="2533.5">0.08</text>
<text class="kx" x="189.8" y="2550">04/02 09:52:16</text>
<text class="kx" x="371.9" y="2550">04/02 09:52:21</text>
<text class="kx" x="554" y="2550">04/02 09:52:26</text>
<text class="kx" x="736.1" y="2550">04/02 09:52:31</text>
<text class="kx" x="918.2" y="2550">04/02 09:52:36</text>
<text class="kx" x="1100.3" y="2550">04/02 09:52:41</text>
<text class="kx" x="1282.5" y="2550">04/02 09:52:46</text>
<text class="kx" x="1464.6" y="2550">04/02 09:52:51</text>
<text class="kx" x="1646.6" y="2550">04/02 09:52:56</text>
<text class="kx" transform="translate(54,2416.5) rotate(-90)" style="fill:#444"><tspan class="m">β</tspan><tspan class="m" font-size="11" dy="3">p</tspan></text>

<!-- ================= TS5: Proton Number Density ================= -->
<g clip-path="url(#t5)"><g transform="translate(117,2600) scale(36.42,0.408163)">
<polyline class="ts" stroke="#0000ff" points="0,355 1,311 2,266 3,308 4,270 5,242 6,348 7,222 8,364 9,361 10,247 11,101 12,504 13,371 14,444 15,405 16,534 17,488 18,421 19,298 20,451 21,420 22,391 23,455 24,430 25,299 26,285 27,346 28,267 29,254 30,211 31,569 32,305 33,503 34,312 35,325 36,256 37,244 38,284 39,246 40,231 41,380 42,344 43,315"/>
</g></g>
<g class="tk"><use xlink:href="#xtb" href="#xtb" y="2860.8"/><use xlink:href="#xtt" href="#xtt" y="2638.8"/></g>
<path class="tk" d="M116.5,2675.8h7M116.5,2712.8h7M116.5,2749.8h7M116.5,2786.8h7M116.5,2823.8h7M1682.5,2675.8h-7M1682.5,2712.8h-7M1682.5,2749.8h-7M1682.5,2786.8h-7M1682.5,2823.8h-7"/>
<rect class="fr" x="116.5" y="2638.8" width="1566" height="222"/>
<text class="t" x="900" y="2629.5">Proton Number Density</text>
<text class="ky" x="108" y="2644.8">170</text>
<text class="ky" x="108" y="2681.8">160</text>
<text class="ky" x="108" y="2718.8">150</text>
<text class="ky" x="108" y="2755.8">140</text>
<text class="ky" x="108" y="2792.8">130</text>
<text class="ky" x="108" y="2829.8">120</text>
<text class="ky" x="108" y="2866.8">110</text>
<text class="kx" x="189.8" y="2883.3">04/02 09:52:16</text>
<text class="kx" x="371.9" y="2883.3">04/02 09:52:21</text>
<text class="kx" x="554" y="2883.3">04/02 09:52:26</text>
<text class="kx" x="736.1" y="2883.3">04/02 09:52:31</text>
<text class="kx" x="918.2" y="2883.3">04/02 09:52:36</text>
<text class="kx" x="1100.3" y="2883.3">04/02 09:52:41</text>
<text class="kx" x="1282.5" y="2883.3">04/02 09:52:46</text>
<text class="kx" x="1464.6" y="2883.3">04/02 09:52:51</text>
<text class="kx" x="1646.6" y="2883.3">04/02 09:52:56</text>
<text class="kx" transform="translate(62.5,2749.8) rotate(-90)">Np(#/cc)</text>

<!-- ================= TS6: Proton Temperature ================= -->
<g clip-path="url(#t6)"><g transform="translate(117,2600) scale(36.42,0.408163)">
<polyline class="ts" stroke="#0000ff" points="0,1331 1,1341 2,1396 3,1398 4,1273 5,1294 6,1282 7,1140 8,1297 9,1314 10,1256 11,1039 12,1280 13,989 14,1174 15,1157 16,1190 17,1193 18,1137 19,1061 20,999 21,961 22,925 23,1193 24,1243 25,1147 26,1156 27,1269 28,1179 29,1105 30,1052 31,1274 32,1142 33,1279 34,1269 35,1122 36,1250 37,1283 38,1350 39,1278 40,1224 41,1322 42,1298 43,1296"/>
</g></g>
<g class="tk"><use xlink:href="#xtb" href="#xtb" y="3194.7"/><use xlink:href="#xtt" href="#xtt" y="2972.7"/></g>
<path class="tk" d="M116.5,3000.45h7M116.5,3028.2h7M116.5,3055.95h7M116.5,3083.7h7M116.5,3111.45h7M116.5,3139.2h7M116.5,3166.95h7M1682.5,3000.45h-7M1682.5,3028.2h-7M1682.5,3055.95h-7M1682.5,3083.7h-7M1682.5,3111.45h-7M1682.5,3139.2h-7M1682.5,3166.95h-7"/>
<rect class="fr" x="116.5" y="2972.7" width="1566" height="222"/>
<rect x="123.4" y="2980" width="71.8" height="27" fill="#fff" stroke="#000" stroke-width="1.5"/>
<line x1="133" y1="2992.6" x2="156" y2="2992.6" stroke="#0000ff" stroke-width="2"/>
<text class="lg" x="171" y="2998.1">Tp</text>
<text class="t" x="900" y="2962">Proton Temperature and <tspan class="m">T</tspan><tspan class="m" font-size="15" dy="4">e</tspan><tspan class="m" dy="-4">/T</tspan><tspan class="m" font-size="15" dy="4">p</tspan></text>
<text class="ky" x="108" y="2978.7">0.32</text>
<text class="ky" x="108" y="3006.45">0.30</text>
<text class="ky" x="108" y="3034.2">0.28</text>
<text class="ky" x="108" y="3061.95">0.26</text>
<text class="ky" x="108" y="3089.7">0.24</text>
<text class="ky" x="108" y="3117.45">0.22</text>
<text class="ky" x="108" y="3145.2">0.20</text>
<text class="ky" x="108" y="3172.95">0.18</text>
<text class="ky" x="108" y="3200.7">0.16</text>
<text class="kx" x="189.8" y="3217.2">04/02 09:52:16</text>
<text class="kx" x="371.9" y="3217.2">04/02 09:52:21</text>
<text class="kx" x="554" y="3217.2">04/02 09:52:26</text>
<text class="kx" x="736.1" y="3217.2">04/02 09:52:31</text>
<text class="kx" x="918.2" y="3217.2">04/02 09:52:36</text>
<text class="kx" x="1100.3" y="3217.2">04/02 09:52:41</text>
<text class="kx" x="1282.5" y="3217.2">04/02 09:52:46</text>
<text class="kx" x="1464.6" y="3217.2">04/02 09:52:51</text>
<text class="kx" x="1646.6" y="3217.2">04/02 09:52:56</text>
<text class="kx" transform="translate(53,3083.7) rotate(-90)">Tp(<tspan font-family="DejaVu Serif, serif">10</tspan><tspan font-size="10" dy="-6">6</tspan><tspan dy="6">K)</tspan></text>
</svg>
</body></html>
